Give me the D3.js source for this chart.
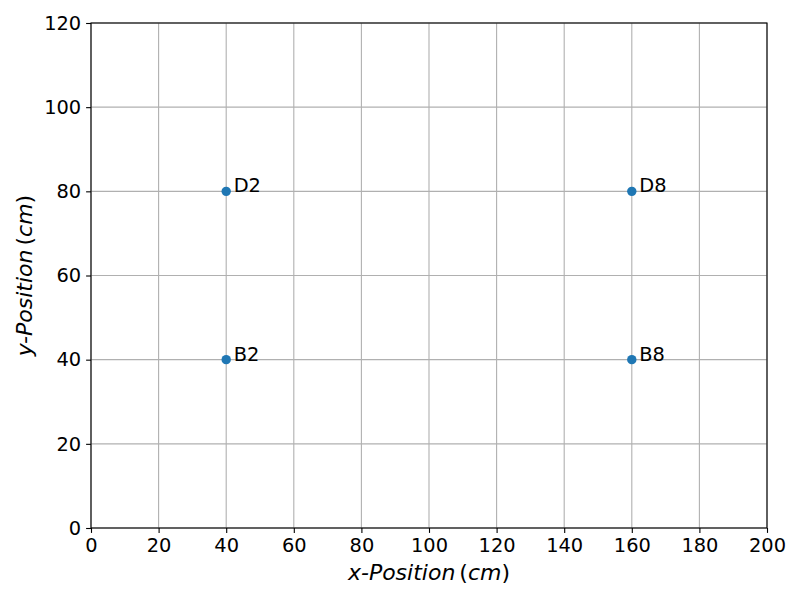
<!DOCTYPE html>
<html>
<head>
<meta charset="utf-8">
<script src="https://cdn.jsdelivr.net/npm/d3@7"></script>
<style>
  body { margin: 0; background: #fff; }
  svg text { font-family: "DejaVu Sans", sans-serif; fill: #000; }
</style>
</head>
<body>
<svg id="chart" width="800" height="600"></svg>
<script>
// sensor positions (cm)
const labels = ["D2", "B2", "D8", "B8"];
const xValues = [40, 40, 160, 160];
const yValues = [80, 40, 80, 40];
const xTicks = [0, 20, 40, 60, 80, 100, 120, 140, 160, 180, 200];
const yTicks = [0, 20, 40, 60, 80, 100, 120];

const svg = d3.select("#chart");
const margin = { left: 91, right: 33, top: 23, bottom: 72 };
const width = 800, height = 600;

const x = d3.scaleLinear().domain([0, 200]).range([margin.left, width - margin.right]);
const y = d3.scaleLinear().domain([0, 120]).range([height - margin.bottom, margin.top]);

// grid
const grid = svg.append("g").attr("class", "grid");
grid.selectAll("line.gx")
    .data(xTicks)
    .enter().append("line")
    .attr("x1", d => x(d)).attr("x2", d => x(d))
    .attr("y1", y(0)).attr("y2", y(120))
    .attr("stroke", "#b0b0b0").attr("stroke-width", 1.1);
grid.selectAll("line.gy")
    .data(yTicks)
    .enter().append("line")
    .attr("y1", d => y(d)).attr("y2", d => y(d))
    .attr("x1", x(0)).attr("x2", x(200))
    .attr("stroke", "#b0b0b0").attr("stroke-width", 1.1);

// axes
const xAxis = svg.append("g")
    .attr("transform", `translate(0,${y(0)})`)
    .call(d3.axisBottom(x).tickValues(xTicks).tickSize(4.9).tickPadding(4.9).tickFormat(d3.format("d")));
const yAxis = svg.append("g")
    .attr("transform", `translate(${x(0)},0)`)
    .call(d3.axisLeft(y).tickValues(yTicks).tickSize(4.9).tickPadding(4.9).tickFormat(d3.format("d")));

[xAxis, yAxis].forEach(a => {
    a.select(".domain").remove();
    a.selectAll(".tick line").attr("stroke", "#000").attr("stroke-width", 1.1);
    a.selectAll(".tick text").attr("font-size", 19.4).attr("font-family", "DejaVu Sans").attr("fill", "#000");
});

// frame
svg.append("rect")
    .attr("x", x(0)).attr("y", y(120))
    .attr("width", x(200) - x(0)).attr("height", y(0) - y(120))
    .attr("fill", "none").attr("stroke", "#000").attr("stroke-width", 1.1);

// points
const pts = labels.map((l, i) => ({ label: l, x: xValues[i], y: yValues[i] }));
svg.append("g").selectAll("circle")
    .data(pts)
    .enter().append("circle")
    .attr("cx", d => x(d.x)).attr("cy", d => y(d.y))
    .attr("r", 4.7)
    .attr("fill", "#1f77b4");

svg.append("g").selectAll("text")
    .data(pts)
    .enter().append("text")
    .attr("x", d => x(d.x) + 7.5)
    .attr("y", d => y(d.y) + 1)
    .attr("font-size", 19.4)
    .text(d => d.label);

// axis titles
function mathLabel(sel, main) {
    sel.append("tspan").attr("font-style", "italic").text(main);
    sel.append("tspan").attr("dx", 4).text("(");
    sel.append("tspan").attr("font-style", "italic").text("cm");
    sel.append("tspan").text(")");
}

const xt = svg.append("text")
    .attr("x", (x(0) + x(200)) / 2)
    .attr("y", 580)
    .attr("text-anchor", "middle")
    .attr("font-size", 22);
mathLabel(xt, "x-Position");

const yt = svg.append("text")
    .attr("transform", `translate(32,${(y(0) + y(120)) / 2}) rotate(-90)`)
    .attr("text-anchor", "middle")
    .attr("font-size", 22);
mathLabel(yt, "y-Position");
</script>
</body>
</html>
